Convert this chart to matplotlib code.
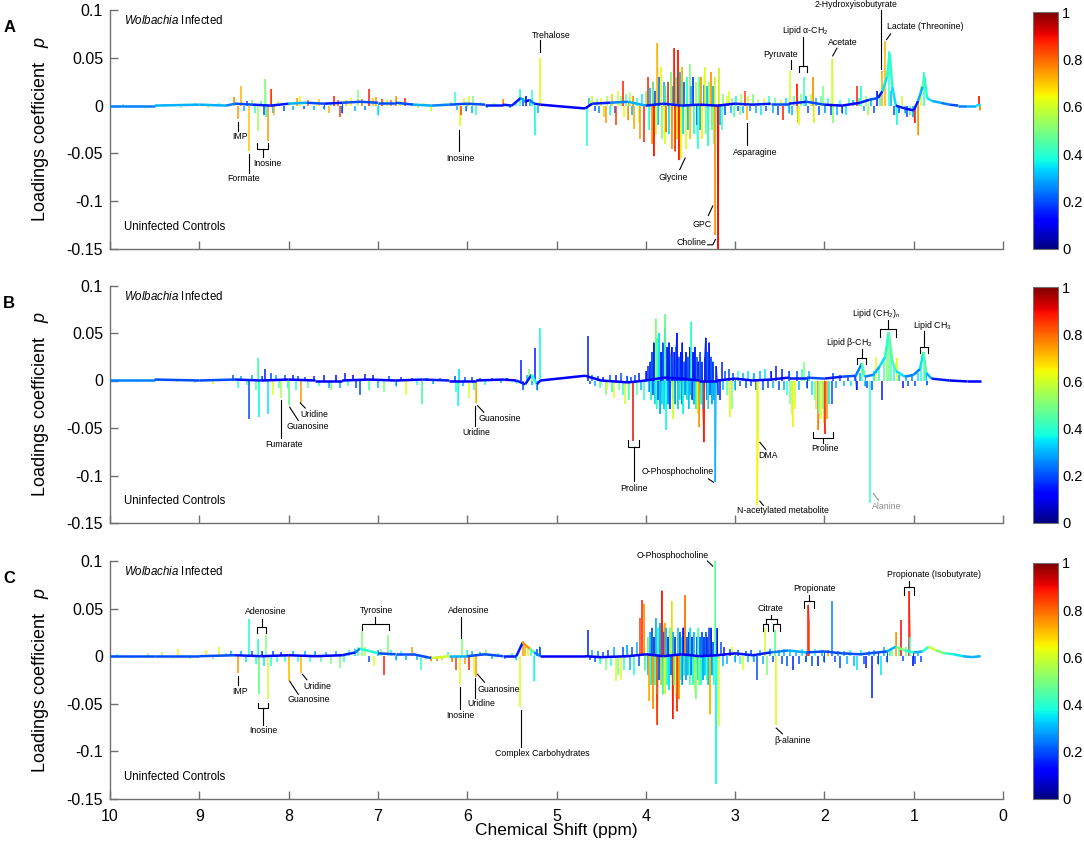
import numpy as np
import matplotlib
import matplotlib.pyplot as plt
from matplotlib.collections import LineCollection

plt.rcParams['font.family'] = ['Liberation Sans', 'DejaVu Sans']
plt.rcParams['axes.unicode_minus'] = False
plt.rcParams['mathtext.fontset'] = 'custom'
plt.rcParams['mathtext.rm'] = 'Liberation Sans'
plt.rcParams['mathtext.it'] = 'Liberation Sans:italic'

# ---------------- panel A : spikes (ppm, loading, correlation) ----------------
a_ppm = [9.85, 9.6, 9.4, 9.2, 9.05, 8.9, 8.78, 8.7,
         8.61, 8.57, 8.53, 8.50, 8.47, 8.44, 8.41, 8.38, 8.34, 8.31, 8.28, 8.26, 8.25, 8.23, 8.20, 8.18, 8.16, 8.12,
         8.05, 8.0, 7.95, 7.91, 7.87, 7.83, 7.78, 7.72, 7.66, 7.60, 7.55, 7.52, 7.49, 7.45, 7.42, 7.40, 7.36, 7.30,
         7.26, 7.22, 7.18, 7.14, 7.10, 7.06, 7.02, 7.00, 6.95, 6.90, 6.85, 6.80, 6.75, 6.70, 6.62, 6.55, 6.48, 6.40,
         6.32, 6.25,
         6.18, 6.14, 6.11, 6.08, 6.07, 6.04, 6.01, 5.98, 5.95, 5.93, 5.90, 5.85, 5.78, 5.70, 5.60, 5.52, 5.45, 5.41,
         5.38, 5.34, 5.30, 5.27, 5.24, 5.21, 5.18,
         4.66, 4.64, 4.62, 4.60, 4.57, 4.55, 4.52, 4.50, 4.47, 4.45, 4.43, 4.40, 4.38, 4.35, 4.33, 4.31, 4.28, 4.26,
         4.24, 4.22, 4.20, 4.18, 4.16, 4.14, 4.13, 4.10, 4.08, 4.06, 4.04, 4.02, 4.00, 3.98,
         3.96, 3.95, 3.93, 3.92, 3.91, 3.90, 3.89, 3.87, 3.86, 3.85, 3.83, 3.82, 3.80, 3.79, 3.78, 3.77, 3.75, 3.74,
         3.72, 3.71, 3.70, 3.68, 3.67, 3.66, 3.65, 3.64, 3.63, 3.62, 3.61, 3.60, 3.59, 3.58, 3.57, 3.55, 3.54, 3.53,
         3.51, 3.50, 3.49, 3.47, 3.46, 3.44, 3.43, 3.42, 3.40, 3.39, 3.38, 3.37, 3.35, 3.34, 3.33, 3.31, 3.30, 3.29,
         3.27, 3.26, 3.25, 3.24, 3.23, 3.22, 3.19, 3.18, 3.17, 3.15, 3.13, 3.11,
         3.09, 3.07, 3.05, 3.03, 3.01, 2.99, 2.97, 2.95, 2.93, 2.91, 2.89, 2.87, 2.85, 2.83, 2.80, 2.77, 2.74, 2.71,
         2.68, 2.65, 2.62, 2.58, 2.55, 2.52, 2.49, 2.46, 2.43, 2.40,
         2.38, 2.36, 2.34, 2.31, 2.30, 2.28, 2.26, 2.23, 2.21, 2.18, 2.15, 2.13, 2.12, 2.09, 2.06, 2.04, 2.02, 1.99,
         1.96, 1.93, 1.91, 1.90, 1.86, 1.83, 1.80, 1.76, 1.72, 1.68, 1.64, 1.61, 1.59, 1.56, 1.53, 1.51, 1.48, 1.45,
         1.41, 1.38, 1.36, 1.32, 1.28, 1.25, 1.22, 1.19, 1.16, 1.13, 1.10, 1.07, 1.04, 1.01, 0.99, 0.95, 0.92, 0.89,
         0.27, 0.26]
a_load = [0.002, -0.002, 0.002, -0.002, 0.003, -0.003, 0.003, 0.002,
          0.009, -0.014, 0.021, -0.006, 0.005, -0.048, 0.006, -0.008, -0.027, 0.005, -0.010, 0.028, -0.012, -0.037,
          0.017, -0.008, -0.010, 0.005,
          -0.006, 0.004, -0.005, 0.008, 0.010, -0.004, 0.006, -0.005, 0.007, -0.004, -0.008, 0.004, 0.010, 0.006,
          -0.012, -0.008, 0.006, 0.008, -0.006, 0.016, 0.007, -0.005, 0.017, 0.008, 0.009, -0.010, 0.007, 0.006,
          0.006, 0.010, 0.005, 0.008, 0.003, -0.003, 0.003, -0.006, 0.002, 0.003,
          0.004, 0.014, -0.005, -0.021, -0.010, 0.008, -0.006, 0.010, -0.008, 0.010, -0.010, 0.004, -0.003, 0.003,
          0.007, -0.002, 0.005, 0.017, 0.008, 0.010, 0.004, 0.016, -0.031, -0.008, 0.050,
          -0.042, 0.008, 0.006, 0.010, -0.006, 0.007, -0.008, 0.008, -0.012, -0.018, 0.010, -0.010, 0.012, -0.008,
          -0.020, 0.015, 0.010, 0.026, -0.012, 0.012, -0.015, 0.014, -0.010, 0.010, -0.024, 0.008, -0.018, -0.035,
          0.012, -0.038, 0.015, 0.030,
          -0.025, 0.018, -0.040, 0.025, -0.053, 0.015, -0.030, 0.065, -0.020, 0.030, 0.040, -0.035, 0.025, -0.040,
          0.020, -0.028, 0.025, -0.030, 0.035, -0.045, 0.020, 0.060, -0.048, 0.030, -0.035, 0.058, -0.057, 0.035,
          -0.055, 0.020, 0.040, -0.030, 0.025, -0.045, 0.030, -0.025, 0.043, -0.035, 0.020, 0.030, -0.030, 0.025,
          -0.020, -0.045, 0.030, -0.025, 0.030, -0.035, 0.022, 0.040, -0.030, 0.020, -0.042, 0.025, 0.035, -0.025,
          0.020, -0.040, 0.030, -0.135, -0.150, 0.039, -0.020, -0.025, 0.012, -0.010,
          0.010, 0.015, -0.008, 0.008, -0.012, 0.010, -0.006, -0.010, 0.012, -0.008, 0.015, -0.015, 0.010, -0.006,
          0.012, -0.008, 0.006, -0.010, 0.008, -0.006, 0.010, -0.008, 0.008, -0.010, 0.006, -0.015, 0.008, -0.008,
          0.036, -0.010, 0.010, 0.023, -0.018, -0.020, 0.012, 0.030, 0.010, -0.008, 0.012, 0.030, -0.018, 0.008,
          -0.010, 0.010, 0.020, -0.008, 0.008, -0.010, 0.049, -0.018, -0.010, 0.006, -0.008, -0.010, 0.008, 0.006,
          0.020, 0.008, 0.020, -0.006, 0.010, -0.010, 0.008, -0.008, 0.015, 0.010, 0.036, 0.068, 0.057, 0.015,
          -0.010, -0.020, -0.008, 0.010, -0.008, -0.012, -0.010, -0.012, -0.018, -0.031, 0.020, 0.035,
          0.010, -0.005]
a_corr = [0.45, 0.5, 0.4, 0.55, 0.5, 0.6, 0.45, 0.5,
          0.75, 0.75, 0.72, 0.3, 0.2, 0.7, 0.5, 0.4, 0.55, 0.45, 0.2, 0.5, 0.4, 0.75, 0.85, 0.3, 0.72, 0.6,
          0.2, 0.6, 0.3, 0.75, 0.65, 0.2, 0.8, 0.3, 0.7, 0.25, 0.72, 0.5, 0.88, 0.8, 0.85, 0.2, 0.7, 0.65,
          0.3, 0.5, 0.8, 0.25, 0.88, 0.7, 0.75, 0.35, 0.85, 0.65, 0.8, 0.75, 0.6, 0.88, 0.5, 0.55, 0.6, 0.6,
          0.5, 0.55,
          0.5, 0.4, 0.3, 0.62, 0.85, 0.6, 0.25, 0.6, 0.3, 0.5, 0.4, 0.5, 0.3, 0.5, 0.75, 0.3, 0.4, 0.4,
          0.2, 0.15, 0.3, 0.4, 0.38, 0.3, 0.62,
          0.38, 0.3, 0.55, 0.6, 0.2, 0.5, 0.25, 0.65, 0.7, 0.75, 0.55, 0.4, 0.7, 0.2, 0.85, 0.6, 0.5, 0.88,
          0.65, 0.45, 0.75, 0.55, 0.3, 0.75, 0.72, 0.4, 0.6, 0.75, 0.35, 0.88, 0.5, 0.88,
          0.4, 0.3, 0.75, 0.45, 0.88, 0.2, 0.6, 0.72, 0.35, 0.25, 0.65, 0.5, 0.3, 0.62, 0.4, 0.8, 0.88, 0.35,
          0.5, 0.75, 0.3, 0.88, 0.85, 0.4, 0.6, 0.88, 0.88, 0.3, 0.62, 0.45, 0.72, 0.35, 0.2, 0.62, 0.4, 0.3,
          0.5, 0.7, 0.3, 0.15, 0.4, 0.55, 0.2, 0.4, 0.45, 0.3, 0.75, 0.65, 0.25, 0.62, 0.45, 0.3, 0.4, 0.55,
          0.75, 0.5, 0.3, 0.5, 0.6, 0.75, 0.9, 0.6, 0.3, 0.4, 0.5, 0.2,
          0.6, 0.62, 0.3, 0.5, 0.45, 0.4, 0.2, 0.5, 0.55, 0.3, 0.85, 0.72, 0.6, 0.25, 0.5, 0.3, 0.55, 0.35,
          0.6, 0.2, 0.4, 0.3, 0.45, 0.2, 0.6, 0.88, 0.35, 0.3,
          0.6, 0.3, 0.45, 0.88, 0.6, 0.62, 0.5, 0.42, 0.3, 0.2, 0.55, 0.75, 0.62, 0.3, 0.2, 0.45, 0.5, 0.3,
          0.4, 0.2, 0.6, 0.5, 0.3, 0.4, 0.2, 0.35, 0.4, 0.3, 0.88, 0.4, 0.4, 0.3, 0.5, 0.55, 0.3, 0.2,
          0.15, 0.4, 0.72, 0.72, 0.4, 0.3, 0.2, 0.38, 0.2, 0.6, 0.3, 0.2, 0.4, 0.3, 0.88, 0.75, 0.62, 0.4,
          0.88, 0.75]

# panel A : baseline trace
a_base_ppm = [10.0, 9.5, 9.0, 8.7, 8.6, 8.4, 8.2, 8.0, 7.8, 7.6, 7.4, 7.2, 7.0, 6.8, 6.6, 6.4, 6.2, 6.0, 5.8,
              5.6, 5.5, 5.4, 5.35, 5.3, 5.25, 5.18, 4.68, 4.6, 4.4, 4.2, 4.0, 3.8, 3.6, 3.4, 3.2, 3.0, 2.8,
              2.6, 2.4, 2.2, 2.0, 1.8, 1.6, 1.5, 1.4, 1.35, 1.3, 1.27, 1.24, 1.2, 1.1, 1.0, 0.95, 0.9, 0.88,
              0.85, 0.8, 0.7, 0.6, 0.5, 0.4, 0.3, 0.25]
a_base_load = [0.0, 0.0, 0.001, 0.0, 0.002, 0.001, 0.0, 0.002, 0.003, 0.002, 0.003, 0.004, 0.003, 0.003,
               0.001, 0.0, 0.001, 0.002, 0.001, 0.001, 0.0, 0.008, 0.004, 0.006, 0.002, 0.001, -0.003, 0.002,
               0.003, 0.004, 0.0, 0.002, 0.0, 0.001, 0.0, 0.002, 0.001, 0.002, 0.002, 0.004, 0.001, 0.0,
               0.003, 0.006, 0.008, 0.015, 0.030, 0.055, 0.020, 0.0, -0.003, -0.005, 0.005, 0.020, 0.030,
               0.008, 0.005, 0.003, 0.001, 0.0, 0.0, 0.0, 0.001]
a_base_corr = [0.25, 0.3, 0.3, 0.25, 0.2, 0.15, 0.15, 0.3, 0.2, 0.15,
               0.2, 0.2, 0.2, 0.2, 0.3, 0.25, 0.2, 0.2, 0.15, 0.15,
               0.15, 0.3, 0.12, 0.25, 0.15, 0.12, 0.12, 0.15, 0.25, 0.3,
               0.15, 0.15, 0.15, 0.12, 0.12, 0.15, 0.15, 0.2, 0.15, 0.2,
               0.12, 0.12, 0.15, 0.2, 0.15, 0.35, 0.4, 0.4, 0.35, 0.15,
               0.12, 0.15, 0.3, 0.45, 0.4, 0.35, 0.3, 0.25, 0.2, 0.25,
               0.3, 0.35, 0.35]

# ---------------- panel B ----------------
b_ppm = [9.9, 9.7, 9.45, 9.25, 9.05, 8.85, 8.72,
         8.62, 8.57, 8.53, 8.47, 8.44, 8.41, 8.37, 8.34, 8.33, 8.30, 8.26, 8.23, 8.20, 8.18, 8.14, 8.11,
         8.08, 8.04, 8.01, 7.99, 7.95, 7.92, 7.89, 7.86, 7.82, 7.78, 7.72, 7.66, 7.60, 7.55, 7.52, 7.47, 7.42,
         7.37, 7.33, 7.28, 7.24, 7.20, 7.15, 7.10, 7.05, 7.00, 6.93, 6.88, 6.80, 6.74, 6.69, 6.62, 6.56, 6.51,
         6.45, 6.38, 6.30,
         6.14, 6.12, 6.10, 6.09, 6.05, 6.02, 5.98, 5.95, 5.92, 5.90, 5.86, 5.80, 5.72, 5.62, 5.55, 5.45, 5.40,
         5.38, 5.33, 5.31, 5.27, 5.24, 5.22, 5.19,
         4.65, 4.63, 4.60, 4.57, 4.54, 4.51, 4.48, 4.45, 4.43, 4.40, 4.38, 4.36, 4.33, 4.30, 4.28, 4.25, 4.23,
         4.21, 4.19, 4.17, 4.14, 4.12, 4.10, 4.08, 4.05, 4.02, 4.00, 3.98,
         3.96, 3.95, 3.94, 3.93, 3.92, 3.91, 3.90, 3.89, 3.88, 3.87, 3.86, 3.85, 3.84, 3.83, 3.82, 3.81, 3.80,
         3.79, 3.78, 3.77, 3.76, 3.75, 3.74, 3.73, 3.72, 3.71, 3.70, 3.69, 3.68, 3.67, 3.66, 3.65, 3.64, 3.63,
         3.62, 3.61, 3.60, 3.59, 3.58, 3.57, 3.56, 3.55, 3.54, 3.53, 3.52, 3.51, 3.50, 3.49, 3.48, 3.47, 3.46,
         3.45, 3.44, 3.43, 3.42, 3.41, 3.40, 3.39, 3.38, 3.37, 3.36, 3.35, 3.34, 3.33, 3.32, 3.31, 3.30, 3.29,
         3.28, 3.27, 3.26, 3.25, 3.24, 3.22, 3.21, 3.19, 3.17, 3.15, 3.13, 3.11, 3.09, 3.07, 3.06, 3.04, 3.02,
         3.00,
         2.97, 2.94, 2.91, 2.88, 2.85, 2.82, 2.79, 2.77, 2.75, 2.74, 2.72, 2.69, 2.66, 2.63, 2.60, 2.57, 2.54,
         2.51, 2.48, 2.45, 2.42, 2.40,
         2.38, 2.36, 2.35, 2.33, 2.31, 2.28, 2.25, 2.23, 2.20, 2.17, 2.14, 2.11, 2.09, 2.07, 2.06, 2.04, 2.02,
         2.00, 1.99, 1.97, 1.95, 1.92, 1.90, 1.87,
         1.82, 1.78, 1.74, 1.70, 1.66, 1.64, 1.60, 1.58, 1.55, 1.52, 1.49, 1.47, 1.44, 1.42, 1.39, 1.36, 1.33,
         1.30, 1.28, 1.25, 1.22, 1.19, 1.16, 1.12, 1.09, 1.06, 1.02, 0.98, 0.95, 0.92, 0.89, 0.87, 0.85]
b_load = [0.002, -0.002, 0.002, -0.002, -0.003, -0.004, 0.002,
          0.006, -0.008, 0.005, -0.005, -0.040, 0.006, -0.010, 0.024, -0.038, 0.005, 0.012, -0.035, 0.008,
          -0.015, 0.006, -0.008,
          -0.018, 0.006, -0.008, -0.026, 0.006, -0.010, 0.005, -0.024, 0.004, -0.008, 0.005, -0.006, 0.006,
          -0.008, -0.010, 0.006, -0.008, 0.008, -0.006, 0.006, -0.008, -0.015, 0.007, -0.010, 0.006, -0.008,
          -0.012, 0.005, -0.006, 0.004, -0.015, 0.003, -0.005, -0.025, 0.003, -0.004, 0.003,
          0.005, -0.012, -0.027, 0.012, -0.006, 0.004, -0.018, 0.004, -0.010, -0.024, 0.003, -0.005, 0.003,
          -0.003, 0.003, -0.003, 0.022, -0.010, 0.006, 0.012, -0.005, 0.034, -0.010, 0.055,
          0.047, -0.004, 0.006, -0.006, 0.005, -0.008, 0.004, -0.015, -0.010, 0.006, -0.012, -0.018, 0.006,
          -0.010, 0.008, -0.015, -0.025, 0.005, -0.020, 0.004, -0.064, 0.006, -0.015, 0.008, -0.010, -0.020,
          0.010, 0.015,
          -0.012, 0.020, -0.020, 0.030, -0.015, 0.040, -0.025, 0.065, -0.030, 0.045, -0.020, 0.050, -0.035,
          0.030, -0.025, 0.040, -0.030, 0.055, 0.070, -0.052, 0.035, -0.025, 0.040, -0.030, 0.025, 0.035,
          -0.020, -0.040, 0.030, -0.025, 0.035, 0.050, -0.030, 0.025, -0.020, 0.030, -0.025, 0.040, -0.035,
          0.020, -0.015, 0.030, -0.020, 0.025, -0.030, 0.035, -0.015, 0.062, -0.020, 0.030, -0.025, 0.035,
          -0.030, 0.025, -0.035, 0.020, -0.049, 0.030, -0.025, 0.020, -0.030, -0.065, 0.025, 0.045, -0.020,
          0.030, -0.030, 0.040, -0.015, 0.025, -0.025, 0.020, -0.020, -0.107, 0.015, -0.015, -0.020, 0.020,
          -0.010, 0.010, -0.015, 0.012, -0.038, -0.030, 0.008, -0.010,
          0.010, -0.006, 0.008, -0.008, 0.010, -0.006, 0.008, -0.010, -0.131, -0.058, 0.010, -0.010, 0.012,
          -0.008, 0.010, -0.008, 0.015, -0.010, 0.012, -0.010, -0.015, 0.010,
          -0.025, -0.035, -0.049, -0.030, 0.010, -0.010, 0.012, 0.020, -0.008, 0.010, -0.015, -0.020, -0.030,
          -0.052, -0.035, -0.040, -0.030, -0.045, -0.056, -0.040, -0.025, -0.025, 0.008, -0.008,
          0.006, -0.006, 0.005, -0.006, 0.005, -0.010, 0.008, 0.018, -0.006, -0.008, -0.129, -0.010, 0.010,
          0.025, 0.010, -0.020, 0.020, 0.035, 0.051, 0.030, 0.015, 0.024, 0.006, -0.008, 0.006, -0.006, 0.006,
          -0.006, 0.008, 0.015, 0.030, 0.012, -0.005]
b_corr = [0.45, 0.4, 0.5, 0.55, 0.5, 0.65, 0.3,
          0.2, 0.4, 0.3, 0.45, 0.2, 0.3, 0.45, 0.45, 0.38, 0.2, 0.15, 0.35, 0.2, 0.62, 0.3, 0.45,
          0.55, 0.2, 0.4, 0.48, 0.15, 0.4, 0.2, 0.75, 0.2, 0.45, 0.15, 0.4, 0.15, 0.3, 0.5, 0.1, 0.3,
          0.15, 0.4, 0.1, 0.2, 0.2, 0.15, 0.45, 0.15, 0.3, 0.5, 0.2, 0.3, 0.2, 0.62, 0.2, 0.4, 0.45,
          0.2, 0.3, 0.25,
          0.2, 0.4, 0.38, 0.35, 0.3, 0.2, 0.62, 0.2, 0.4, 0.72, 0.2, 0.4, 0.2, 0.3, 0.2, 0.35, 0.15,
          0.2, 0.3, 0.5, 0.3, 0.15, 0.25, 0.38,
          0.15, 0.2, 0.25, 0.3, 0.2, 0.45, 0.15, 0.5, 0.6, 0.2, 0.4, 0.62, 0.15, 0.5, 0.2, 0.4, 0.6,
          0.2, 0.45, 0.2, 0.9, 0.2, 0.45, 0.15, 0.3, 0.38, 0.15, 0.15,
          0.3, 0.15, 0.4, 0.2, 0.25, 0.15, 0.35, 0.5, 0.4, 0.45, 0.2, 0.35, 0.3, 0.15, 0.4, 0.2, 0.35,
          0.3, 0.48, 0.38, 0.15, 0.3, 0.15, 0.2, 0.3, 0.15, 0.4, 0.6, 0.15, 0.3, 0.2, 0.15, 0.35, 0.2,
          0.45, 0.15, 0.3, 0.15, 0.38, 0.2, 0.3, 0.15, 0.4, 0.2, 0.35, 0.15, 0.3, 0.4, 0.2, 0.15, 0.35,
          0.15, 0.45, 0.2, 0.6, 0.15, 0.75, 0.2, 0.4, 0.15, 0.3, 0.88, 0.15, 0.15, 0.3, 0.2, 0.4, 0.15,
          0.25, 0.2, 0.3, 0.15, 0.3, 0.3, 0.15, 0.2, 0.15, 0.15, 0.3, 0.2, 0.45, 0.2, 0.62, 0.5, 0.2,
          0.3,
          0.4, 0.2, 0.3, 0.2, 0.35, 0.2, 0.3, 0.2, 0.65, 0.6, 0.3, 0.2, 0.35, 0.2, 0.15, 0.3, 0.15,
          0.2, 0.15, 0.3, 0.4, 0.2,
          0.5, 0.55, 0.65, 0.6, 0.2, 0.3, 0.4, 0.5, 0.2, 0.3, 0.35, 0.5, 0.55, 0.78, 0.5, 0.6, 0.45,
          0.7, 0.88, 0.75, 0.35, 0.2, 0.2, 0.3,
          0.2, 0.3, 0.2, 0.35, 0.2, 0.15, 0.3, 0.45, 0.3, 0.2, 0.4, 0.2, 0.35, 0.62, 0.4, 0.15, 0.45,
          0.5, 0.48, 0.45, 0.4, 0.62, 0.3, 0.15, 0.3, 0.2, 0.25, 0.2, 0.35, 0.4, 0.48, 0.4, 0.2]

b_base_ppm = [10.0, 9.5, 9.0, 8.6, 8.3, 8.0, 7.7, 7.4, 7.1, 6.8, 6.5, 6.2, 5.9, 5.6, 5.45, 5.35, 5.28, 5.22,
              5.18, 4.68, 4.5, 4.2, 4.0, 3.8, 3.6, 3.4, 3.2, 3.0, 2.8, 2.6, 2.4, 2.2, 2.0, 1.8, 1.65, 1.58,
              1.55, 1.45, 1.38, 1.32, 1.28, 1.24, 1.2, 1.1, 1.0, 0.93, 0.89, 0.86, 0.8, 0.6, 0.4, 0.25]
b_base_load = [0.001, 0.001, 0.0, 0.001, 0.0, 0.001, 0.0, 0.0, 0.001, 0.0, 0.001, 0.0, 0.0, 0.001, 0.0,
               -0.004, 0.006, -0.004, 0.0, 0.005, 0.0, -0.002, 0.0, 0.003, 0.002, 0.0, 0.0, 0.002, 0.0,
               0.001, 0.003, 0.003, 0.002, 0.004, 0.005, 0.018, 0.004, 0.006, 0.015, 0.025, 0.051, 0.020,
               0.010, 0.004, 0.006, 0.012, 0.030, 0.008, 0.002, 0.0, -0.001, -0.001]
b_base_corr = [0.25, 0.2, 0.2, 0.15, 0.12, 0.12, 0.12, 0.12, 0.12, 0.12, 0.15, 0.12, 0.12, 0.12, 0.15,
               0.15, 0.4, 0.15, 0.12, 0.12, 0.12, 0.12, 0.12, 0.12, 0.12, 0.12, 0.12, 0.12, 0.12, 0.12,
               0.15, 0.2, 0.15, 0.2, 0.25, 0.45, 0.25, 0.3, 0.35, 0.4, 0.45, 0.42, 0.35, 0.25, 0.25, 0.35,
               0.45, 0.3, 0.15, 0.12, 0.12, 0.12]

# ---------------- panel C ----------------
c_ppm = [9.92, 9.75, 9.58, 9.42, 9.30, 9.24, 9.10, 8.93, 8.85, 8.78, 8.70, 8.64,
         8.57, 8.53, 8.48, 8.44, 8.41, 8.37, 8.34, 8.33, 8.30, 8.27, 8.25, 8.23, 8.20, 8.17, 8.13,
         8.08, 8.04, 7.99, 7.95, 7.90, 7.86, 7.82, 7.76, 7.70, 7.64, 7.58, 7.52, 7.47, 7.43, 7.38, 7.32, 7.26,
         7.22, 7.18, 7.15, 7.10, 7.04, 7.00, 6.96, 6.93, 6.89, 6.85, 6.80, 6.74, 6.68, 6.62, 6.56, 6.52, 6.46,
         6.40, 6.34, 6.28, 6.22,
         6.17, 6.12, 6.08, 6.06, 6.03, 6.00, 5.98, 5.95, 5.92, 5.90, 5.86, 5.79, 5.72, 5.65, 5.58, 5.50, 5.45,
         5.41, 5.38, 5.35, 5.32, 5.29, 5.25, 5.22, 5.19,
         4.65, 4.63, 4.60, 4.57, 4.54, 4.51, 4.48, 4.45, 4.42, 4.39, 4.36, 4.33, 4.31, 4.28, 4.26, 4.24, 4.21,
         4.18, 4.15, 4.13, 4.10, 4.08, 4.06, 4.04, 4.02, 4.01,
         3.98, 3.97, 3.96, 3.95, 3.94, 3.93, 3.92, 3.91, 3.90, 3.89, 3.88, 3.87, 3.86, 3.85, 3.84, 3.83, 3.82,
         3.81, 3.80, 3.79, 3.78, 3.77, 3.76, 3.75, 3.74, 3.73, 3.72, 3.71, 3.70, 3.69, 3.68, 3.67, 3.66, 3.65,
         3.64, 3.63, 3.62, 3.61, 3.60, 3.59, 3.58, 3.57, 3.56, 3.55, 3.54, 3.53, 3.52, 3.51, 3.50, 3.49, 3.48,
         3.47, 3.46, 3.45, 3.44, 3.43, 3.42, 3.41, 3.40, 3.39, 3.38, 3.37, 3.36, 3.35, 3.34, 3.33, 3.32, 3.31,
         3.30, 3.29, 3.28, 3.27, 3.26, 3.25, 3.24, 3.22, 3.215, 3.20, 3.18, 3.16, 3.14, 3.12,
         3.09, 3.06, 3.03, 3.00, 2.97, 2.94, 2.91, 2.88, 2.85, 2.82, 2.79, 2.75, 2.72, 2.69, 2.66, 2.64, 2.61,
         2.58, 2.55, 2.54, 2.51, 2.48, 2.45, 2.42,
         2.38, 2.35, 2.32, 2.28, 2.25, 2.21, 2.18, 2.17, 2.14, 2.10, 2.07, 2.03, 2.00, 1.96, 1.91, 1.88, 1.85,
         1.82, 1.78, 1.75, 1.71, 1.67, 1.63, 1.59, 1.56, 1.53, 1.50, 1.47, 1.44, 1.40, 1.37, 1.33, 1.30, 1.27,
         1.24, 1.20, 1.17, 1.14, 1.12, 1.09, 1.05, 1.04, 1.01, 0.98, 0.95, 0.92]
c_load = [0.002, -0.002, 0.003, 0.004, -0.003, 0.008, -0.003, 0.006, -0.003, 0.010, 0.003, 0.005,
          -0.018, 0.005, -0.006, 0.039, 0.005, -0.008, 0.018, -0.040, 0.005, -0.010, 0.022, -0.045, -0.010,
          0.005, -0.006,
          0.004, -0.006, -0.026, 0.005, -0.006, -0.018, 0.005, -0.006, 0.005, -0.006, 0.004, -0.008, 0.005,
          -0.012, -0.006, 0.006, 0.008, 0.010, 0.026, 0.010, -0.006, -0.010, 0.006, 0.008, -0.020, 0.022,
          0.006, -0.004, 0.005, -0.004, 0.010, -0.004, -0.014, -0.004, -0.005, -0.005, -0.004, 0.004,
          -0.006, -0.015, -0.029, 0.018, -0.008, 0.006, -0.015, 0.005, -0.020, -0.022, 0.004, 0.007, -0.003,
          0.003, -0.003, 0.003, -0.004, -0.053, 0.016, 0.012, 0.010, 0.006, -0.026, 0.008, 0.010,
          0.027, -0.004, 0.006, -0.006, 0.005, -0.008, 0.004, -0.015, 0.006, -0.010, 0.010, -0.026, -0.020,
          -0.025, 0.010, -0.015, 0.012, -0.015, 0.010, -0.020, 0.015, -0.010, 0.040, 0.059, 0.055, -0.015,
          0.020, -0.020, -0.047, 0.025, -0.030, 0.030, -0.055, 0.020, -0.030, 0.040, -0.040, -0.072, 0.030,
          -0.025, 0.035, -0.030, 0.069, -0.040, 0.025, 0.035, -0.040, 0.030, -0.030, 0.020, -0.035, 0.030,
          -0.020, 0.058, -0.066, 0.025, -0.030, 0.020, -0.040, -0.058, 0.030, -0.045, 0.025, -0.025, 0.020,
          -0.030, 0.030, -0.020, 0.064, -0.025, 0.020, -0.020, 0.025, -0.030, 0.030, -0.020, 0.020, -0.030,
          0.025, -0.035, -0.045, 0.020, -0.025, 0.030, -0.030, 0.020, -0.030, 0.025, -0.025, 0.020, -0.020,
          0.025, -0.025, 0.020, -0.030, 0.030, -0.061, 0.030, -0.020, 0.015, -0.030, 0.100, -0.134, 0.030,
          -0.073, 0.015, -0.010, 0.010,
          -0.008, 0.008, 0.010, -0.006, 0.006, -0.008, -0.015, 0.005, -0.006, 0.006, -0.006, -0.025, 0.006,
          -0.008, 0.030, -0.020, 0.008, -0.006, 0.027, -0.072, 0.006, -0.008, 0.008, -0.010,
          0.006, -0.015, 0.005, -0.008, 0.008, -0.006, 0.054, 0.035, -0.010, 0.008, -0.010, 0.006, -0.006,
          0.006, 0.058, -0.006, 0.005, -0.012, 0.005, -0.008, 0.006, -0.010, -0.015, 0.006, -0.008, -0.012,
          0.005, -0.044, 0.006, -0.008, -0.020, 0.010, -0.006, 0.008, 0.006, 0.025, 0.010, 0.038, -0.005,
          0.010, 0.068, 0.020, -0.010, -0.008, 0.005, -0.006]
c_corr = [0.4, 0.5, 0.55, 0.55, 0.6, 0.65, 0.5, 0.65, 0.5, 0.62, 0.4, 0.3,
          0.75, 0.3, 0.35, 0.38, 0.2, 0.4, 0.4, 0.48, 0.2, 0.35, 0.5, 0.6, 0.38, 0.2, 0.4,
          0.2, 0.4, 0.7, 0.3, 0.4, 0.72, 0.3, 0.4, 0.3, 0.45, 0.3, 0.5, 0.3, 0.5, 0.4, 0.4, 0.35,
          0.45, 0.5, 0.55, 0.2, 0.62, 0.3, 0.5, 0.88, 0.5, 0.4, 0.3, 0.4, 0.3, 0.75, 0.3, 0.4, 0.5,
          0.75, 0.8, 0.7, 0.4,
          0.8, 0.85, 0.62, 0.5, 0.75, 0.4, 0.88, 0.3, 0.62, 0.75, 0.3, 0.5, 0.3, 0.4, 0.3, 0.4, 0.35,
          0.62, 0.75, 0.72, 0.65, 0.4, 0.38, 0.2, 0.2,
          0.15, 0.2, 0.3, 0.2, 0.25, 0.4, 0.2, 0.5, 0.2, 0.4, 0.3, 0.6, 0.5, 0.62, 0.2, 0.4, 0.3,
          0.3, 0.2, 0.38, 0.3, 0.2, 0.85, 0.88, 0.75, 0.45,
          0.5, 0.3, 0.72, 0.3, 0.4, 0.2, 0.75, 0.15, 0.45, 0.3, 0.5, 0.85, 0.4, 0.2, 0.3, 0.55, 0.88,
          0.45, 0.15, 0.75, 0.6, 0.3, 0.4, 0.15, 0.35, 0.5, 0.2, 0.62, 0.88, 0.3, 0.45, 0.15, 0.6, 0.85,
          0.35, 0.75, 0.2, 0.4, 0.38, 0.3, 0.15, 0.4, 0.78, 0.3, 0.2, 0.35, 0.15, 0.45, 0.35, 0.25, 0.15,
          0.4, 0.3, 0.55, 0.5, 0.2, 0.35, 0.45, 0.5, 0.2, 0.4, 0.2, 0.3, 0.15, 0.35, 0.2, 0.45, 0.15,
          0.35, 0.2, 0.72, 0.15, 0.3, 0.2, 0.4, 0.48, 0.38, 0.15, 0.62, 0.2, 0.3, 0.15,
          0.3, 0.2, 0.62, 0.3, 0.2, 0.4, 0.6, 0.2, 0.3, 0.2, 0.3, 0.2, 0.3, 0.3, 0.6, 0.5, 0.3,
          0.2, 0.45, 0.62, 0.3, 0.2, 0.3, 0.2,
          0.3, 0.15, 0.3, 0.2, 0.35, 0.2, 0.88, 0.85, 0.2, 0.4, 0.15, 0.3, 0.2, 0.75, 0.25, 0.2, 0.3,
          0.2, 0.3, 0.3, 0.4, 0.3, 0.35, 0.4, 0.2, 0.15, 0.3, 0.15, 0.3, 0.2, 0.35, 0.3, 0.2, 0.4,
          0.5, 0.75, 0.45, 0.9, 0.2, 0.5, 0.88, 0.4, 0.15, 0.2, 0.3, 0.2]

c_base_ppm = [10.0, 9.5, 9.0, 8.6, 8.3, 8.0, 7.7, 7.4, 7.25, 7.2, 7.0, 6.8, 6.6, 6.4, 6.2, 6.0, 5.8, 5.6,
              5.45, 5.38, 5.3, 5.25, 5.18, 4.68, 4.5, 4.2, 4.0, 3.8, 3.6, 3.4, 3.2, 3.0, 2.8, 2.6, 2.4,
              2.2, 2.0, 1.8, 1.6, 1.4, 1.3, 1.2, 1.1, 1.0, 0.9, 0.83, 0.75, 0.65, 0.55, 0.45, 0.35, 0.25]
c_base_load = [0.0, 0.0, 0.0, 0.001, 0.0, 0.001, 0.0, 0.001, 0.004, 0.008, 0.003, 0.002, 0.002, -0.002,
               0.0, 0.0, 0.002, 0.0, 0.0, 0.014, 0.008, 0.004, 0.0, 0.0, -0.001, 0.0, 0.002, 0.0, 0.002,
               0.0, 0.001, 0.003, 0.001, 0.004, 0.006, 0.004, 0.005, 0.003, 0.002, 0.004, 0.005, 0.010,
               0.006, 0.004, 0.005, 0.010, 0.006, 0.003, 0.002, 0.0, -0.001, 0.0]
c_base_corr = [0.2, 0.2, 0.2, 0.15, 0.12, 0.12, 0.12, 0.15, 0.25, 0.4, 0.2, 0.2, 0.2, 0.6, 0.3, 0.2, 0.2,
               0.15, 0.15, 0.75, 0.45, 0.25, 0.12, 0.12, 0.12, 0.12, 0.12, 0.12, 0.12, 0.12, 0.12, 0.15,
               0.15, 0.25, 0.3, 0.2, 0.2, 0.2, 0.2, 0.2, 0.3, 0.5, 0.4, 0.3, 0.4, 0.6, 0.5, 0.4, 0.35,
               0.3, 0.3, 0.35]

y_ticks = [-0.15, -0.1, -0.05, 0, 0.05, 0.1]
y_ticklabels = ['-0.15', '-0.1', '-0.05', '0', '0.05', '0.1']
x_ticks = [10, 9, 8, 7, 6, 5, 4, 3, 2, 1, 0]
cbar_ticks = [0, 0.2, 0.4, 0.6, 0.8, 1]
cbar_ticklabels = ['0', '0.2', '0.4', '0.6', '0.8', '1']

cmap = matplotlib.colormaps['jet']
norm = matplotlib.colors.Normalize(0, 1)
SPINE = '#707070'
ANN = 6.3


def draw_spectrum(ax, base, spikes):
    bp, bv, bc = base
    sp, sv, sc = spikes
    # join neighbouring readings of the crowded regions into one continuous trace
    allp = np.concatenate([bp, sp])
    allv = np.concatenate([bv, sv])
    allc = np.concatenate([bc, sc])
    order = np.argsort(-allp, kind='stable')
    p, v, c = allp[order], allv[order], allc[order]
    pts = np.column_stack([p, v])
    segs = np.stack([pts[:-1], pts[1:]], axis=1)
    keep = np.abs(np.diff(p)) < 0.015
    seg_c = np.where(np.abs(v[:-1]) > np.abs(v[1:]), c[:-1], c[1:])
    ax.add_collection(LineCollection(segs[keep], colors=cmap(norm(seg_c[keep])), linewidths=0.7, zorder=2))
    ax.vlines(sp, 0, sv, colors=cmap(norm(np.asarray(sc))), linewidth=1.1, zorder=2)
    bpts = np.column_stack([bp, bv])
    bsegs = np.stack([bpts[:-1], bpts[1:]], axis=1)
    ax.add_collection(LineCollection(bsegs, colors=cmap(norm(np.asarray(bc[:-1]))), linewidths=1.8, zorder=3))


def label(ax, x, y, s, color='black'):
    ax.text(x, y, s, ha='center', va='center', fontsize=ANN, color=color, zorder=5)


def leader(ax, xs, ys, color='black'):
    ax.plot(xs, ys, color=color, lw=0.8, clip_on=False, zorder=5)


def bracket(ax, x1, x2, y_tip, y_bar, y_stem):
    xm = (x1 + x2) / 2
    ax.plot([x1, x1, x2, x2], [y_tip, y_bar, y_bar, y_tip], color='black', lw=0.8, clip_on=False, zorder=5)
    ax.plot([xm, xm], [y_bar, y_stem], color='black', lw=0.8, clip_on=False, zorder=5)


def style_axes(ax, letter, show_xlabels):
    ax.set_xlim(10, 0)
    ax.set_ylim(-0.15, 0.1)
    for side in ['top', 'right']:
        ax.spines[side].set_visible(False)
    for side in ['left', 'bottom']:
        ax.spines[side].set_color(SPINE)
        ax.spines[side].set_linewidth(1.0)
    ax.set_yticks(y_ticks)
    ax.set_yticklabels(y_ticklabels)
    ax.set_xticks(x_ticks)
    if show_xlabels:
        ax.set_xticklabels([str(t) for t in x_ticks])
    else:
        ax.set_xticklabels([])
    ax.tick_params(axis='both', direction='in', length=6, width=1.0, color=SPINE, labelsize=11.5)
    ax.tick_params(axis='y', pad=5)
    ax.tick_params(axis='x', pad=7)
    ax.set_ylabel(r'Loadings coefficient   $\mathit{p}$', fontsize=13)
    ax.yaxis.set_label_coords(-0.066, 0.5)
    ax.text(0.0157, 0.955, r'$\mathit{Wolbachia}$ Infected', transform=ax.transAxes,
            fontsize=8.3, va='center', ha='left')
    ax.text(0.0157, 0.094, 'Uninfected Controls', transform=ax.transAxes,
            fontsize=8.3, va='center', ha='left')
    ax.text(-0.113, 0.925, letter, transform=ax.transAxes, fontsize=12, fontweight='bold',
            ha='center', va='center')


fig = plt.figure(figsize=(10.84, 8.41), dpi=100)
ax_left, ax_w = 110 / 1084, 893 / 1084
rows = [(10, 249), (285.5, 523), (561, 799)]
axes = []
for top, bot in rows:
    ax = fig.add_axes([ax_left, 1 - bot / 841, ax_w, (bot - top) / 841])
    cax = fig.add_axes([1033 / 1084, 1 - bot / 841, 25 / 1084, (bot - top - 2) / 841])
    cb = matplotlib.colorbar.ColorbarBase(cax, cmap=cmap, norm=norm, ticks=cbar_ticks)
    cb.set_ticklabels(cbar_ticklabels)
    cb.outline.set_edgecolor(SPINE)
    cax.tick_params(length=0, labelsize=10.5, pad=3)
    axes.append(ax)

axA, axB, axC = axes
draw_spectrum(axA, (a_base_ppm, a_base_load, a_base_corr), (a_ppm, a_load, a_corr))
draw_spectrum(axB, (b_base_ppm, b_base_load, b_base_corr), (b_ppm, b_load, b_corr))
draw_spectrum(axC, (c_base_ppm, c_base_load, c_base_corr), (c_ppm, c_load, c_corr))
style_axes(axA, 'A', False)
style_axes(axB, 'B', False)
style_axes(axC, 'C', True)

# ---- annotations panel A ----
ax = axA
leader(ax, [8.57, 8.57], [-0.0176, -0.0266]); label(ax, 8.546, -0.0327, 'IMP')
leader(ax, [8.44, 8.44], [-0.051, -0.070]); label(ax, 8.50, -0.0764, 'Formate')
bracket(ax, 8.35, 8.23, -0.039, -0.045, -0.054); label(ax, 8.24, -0.0605, 'Inosine')
leader(ax, [6.09, 6.09], [-0.026, -0.048]); label(ax, 6.077, -0.0555, 'Inosine')
leader(ax, [5.188, 5.188], [0.069, 0.0564]); label(ax, 5.06, 0.0734, 'Trehalose')
leader(ax, [3.56, 3.62], [-0.055, -0.067]); label(ax, 3.692, -0.0748, 'Glycine')
leader(ax, [3.25, 3.30], [-0.105, -0.115]); label(ax, 3.367, -0.1246, 'GPC')
leader(ax, [3.307, 3.25, 3.22], [-0.1456, -0.1456, -0.140]); label(ax, 3.494, -0.143, 'Choline')
leader(ax, [2.87, 2.87], [-0.0185, -0.041]); label(ax, 2.77, -0.0486, 'Asparagine')
leader(ax, [2.37, 2.37], [0.0385, 0.048]); label(ax, 2.486, 0.053, 'Pyruvate')
bracket(ax, 2.288, 2.19, 0.0356, 0.041, 0.072); label(ax, 2.214, 0.0785, r'Lipid α-CH$_2$')
leader(ax, [1.907, 1.86], [0.052, 0.060]); label(ax, 1.792, 0.066, 'Acetate')
leader(ax, [1.363, 1.363], [0.0385, 0.0996]); label(ax, 1.645, 0.1053, '2-Hydroxyisobutyrate')
leader(ax, [1.305, 1.258], [0.069, 0.075]); label(ax, 0.873, 0.0832, 'Lactate (Threonine)')

# ---- annotations panel B ----
ax = axB
leader(ax, [8.09, 8.09], [-0.020, -0.061]); label(ax, 8.05, -0.0672, 'Fumarate')
leader(ax, [7.988, 7.892], [-0.028, -0.042]); label(ax, 7.79, -0.048, 'Guanosine')
leader(ax, [7.87, 7.814], [-0.0236, -0.029]); label(ax, 7.71, -0.0356, 'Uridine')
leader(ax, [5.884, 5.814], [-0.0265, -0.0334]); label(ax, 5.633, -0.0403, 'Guanosine')
leader(ax, [5.91, 5.91], [-0.027, -0.048]); label(ax, 5.895, -0.0545, 'Uridine')
bracket(ax, 4.194, 4.076, -0.0628, -0.0698, -0.106); label(ax, 4.129, -0.1134, 'Proline')
leader(ax, [3.30, 3.243], [-0.1035, -0.107]); label(ax, 3.648, -0.0963, 'O-Phosphocholine')
leader(ax, [2.723, 2.657], [-0.065, -0.0726]); label(ax, 2.632, -0.0789, 'DMA')
leader(ax, [2.723, 2.684], [-0.127, -0.1315]); label(ax, 2.467, -0.1373, 'N-acetylated metabolite')
bracket(ax, 2.124, 1.899, -0.0545, -0.061, -0.066); label(ax, 1.991, -0.0719, 'Proline')
bracket(ax, 1.635, 1.53, 0.017, 0.0236, 0.0335); label(ax, 1.725, 0.040, r'Lipid β-CH$_2$')
bracket(ax, 1.374, 1.199, 0.0455, 0.0546, 0.0637); label(ax, 1.421, 0.0702, r'Lipid (CH$_2$)$_n$')
bracket(ax, 0.935, 0.838, 0.029, 0.0353, 0.052); label(ax, 0.785, 0.0582, r'Lipid CH$_3$')
leader(ax, [1.452, 1.394], [-0.119, -0.126], color='#8c8c8c'); label(ax, 1.302, -0.1326, 'Alanine', color='#8c8c8c')

# ---- annotations panel C ----
ax = axC
bracket(ax, 8.354, 8.251, 0.0243, 0.0305, 0.0388); label(ax, 8.251, 0.0467, 'Adenosine')
leader(ax, [8.57, 8.57], [-0.0213, -0.030]); label(ax, 8.542, -0.0371, 'IMP')
bracket(ax, 8.347, 8.227, -0.049, -0.0545, -0.0718); label(ax, 8.288, -0.0776, 'Inosine')
leader(ax, [7.845, 7.795], [-0.019, -0.0248]); label(ax, 7.68, -0.032, 'Uridine')
leader(ax, [7.988, 7.892], [-0.0263, -0.040]); label(ax, 7.776, -0.045, 'Guanosine')
bracket(ax, 7.178, 6.88, 0.0279, 0.0333, 0.0413); label(ax, 7.013, 0.0478, 'Tyrosine')
leader(ax, [6.065, 6.065], [0.0186, 0.041]); label(ax, 5.98, 0.0478, 'Adenosine')
leader(ax, [6.084, 6.084], [-0.0328, -0.0555]); label(ax, 6.077, -0.0628, 'Inosine')
leader(ax, [5.915, 5.915], [-0.0227, -0.0437]); label(ax, 5.846, -0.0501, 'Uridine')
leader(ax, [5.884, 5.806], [-0.019, -0.0273]); label(ax, 5.648, -0.0346, 'Guanosine')
leader(ax, [5.40, 5.40], [-0.0563, -0.095]); label(ax, 5.162, -0.1025, 'Complex Carbohydrates')
leader(ax, [3.31, 3.25], [0.1, 0.0946]); label(ax, 3.70, 0.106, 'O-Phosphocholine')
bracket(ax, 2.684, 2.63, 0.026, 0.034, 0.0395)
bracket(ax, 2.572, 2.50, 0.026, 0.034, 0.0395)
bracket(ax, 2.657, 2.536, 0.0395, 0.0395, 0.043); label(ax, 2.6, 0.0496, 'Citrate')
bracket(ax, 2.23, 2.113, 0.051, 0.058, 0.0648); label(ax, 2.109, 0.0713, 'Propionate')
bracket(ax, 1.11, 0.997, 0.0648, 0.0727, 0.0792); label(ax, 0.772, 0.0857, 'Propionate (Isobutyrate)')
leader(ax, [2.54, 2.47], [-0.0755, -0.0815]); label(ax, 2.351, -0.0888, 'β-alanine')

fig.text(556.5 / 1084, 1 - 831 / 841, 'Chemical Shift (ppm)', ha='center', va='center', fontsize=12.5)

fig.savefig('out.png', dpi=100)
